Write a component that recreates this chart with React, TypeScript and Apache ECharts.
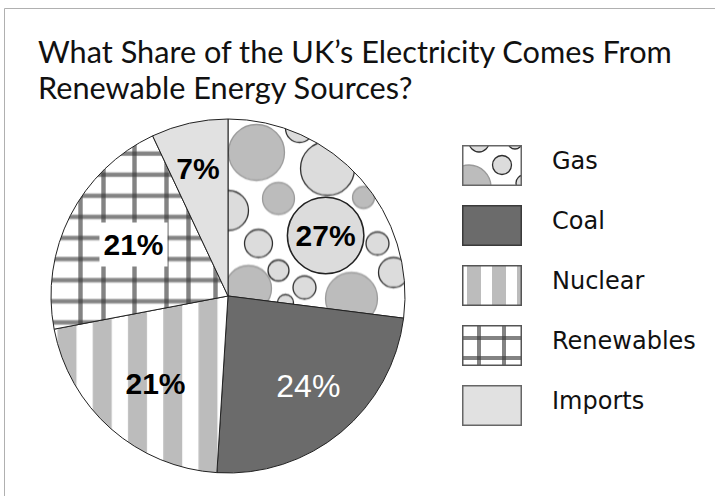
import React, { useEffect, useRef } from 'react';
import * as echarts from 'echarts';

const titleLines = ['What Share of the UK’s Electricity Comes From', 'Renewable Energy Sources?'];
const categories = ['Gas', 'Coal', 'Nuclear', 'Renewables', 'Imports'];
const shares = [27, 24, 21, 21, 7];
const labelTexts = ['27%', '24%', '21%', '21%', '7%'];

const W = 715;
const H = 496;
const CX = 228;
const CY = 296;
const R = 177;

// decorative circle layout of the gas texture (page coordinates): [cx, cy, r, kind]
const gasBubbles: [number, number, number, string][] = [
  [256, 152, 28, 'g'],
  [327, 168, 27, 'l'],
  [299, 128, 14, 'l'],
  [278, 198, 16, 'g'],
  [363, 197, 11, 'g'],
  [228, 210, 20, 'l'],
  [258, 243, 14, 'l'],
  [377, 243, 11.5, 'l'],
  [278, 270, 10.5, 'l'],
  [248, 288, 23, 'g'],
  [304, 287, 11.5, 'l'],
  [393, 272, 15, 'l'],
  [351, 298, 26, 'g'],
  [285, 302, 8, 'l'],
];

// the SVG renderer anchors an image pattern at the shape's bounding box corner
function sectorOrigins() {
  const total = shares.reduce((a, b) => a + b, 0);
  let acc = 0;
  const at = (t: number) => [CX + R * Math.sin((t * Math.PI) / 180), CY - R * Math.cos((t * Math.PI) / 180)];
  return shares.map((v) => {
    const a0 = (acc / total) * 360;
    const a1 = ((acc + v) / total) * 360;
    acc += v;
    const pts = [[CX, CY], at(a0), at(a1)];
    [0, 90, 180, 270, 360].forEach((t) => {
      if (t > a0 && t < a1) pts.push(at(t));
    });
    return [Math.min(...pts.map((p) => p[0])) - 0.5, Math.min(...pts.map((p) => p[1])) - 0.5];
  });
}

function canvasURL(w: number, h: number, draw: (c: CanvasRenderingContext2D) => void) {
  const cv = document.createElement('canvas');
  cv.width = w;
  cv.height = h;
  const ctx = cv.getContext('2d') as CanvasRenderingContext2D;
  draw(ctx);
  return cv.toDataURL();
}

function bubble(ctx: CanvasRenderingContext2D, x: number, y: number, r: number, kind: string) {
  ctx.beginPath();
  ctx.arc(x, y, r, 0, Math.PI * 2);
  ctx.fillStyle = kind === 'g' ? '#bcbcbc' : '#dcdcdc';
  ctx.fill();
  ctx.lineWidth = 1.3;
  ctx.strokeStyle = kind === 'g' ? '#9a9a9a' : '#2e2e2e';
  ctx.stroke();
}

function gasTexture(o: number[]) {
  return canvasURL(W, H, (ctx) => {
    ctx.fillStyle = '#fff';
    ctx.fillRect(0, 0, W, H);
    ctx.translate(-o[0], -o[1]);
    gasBubbles.forEach(([x, y, r, k]) => bubble(ctx, x, y, r, k));
  });
}

function stripeTexture(o: number[]) {
  return canvasURL(W, H, (ctx) => {
    ctx.fillStyle = '#fff';
    ctx.fillRect(0, 0, W, H);
    ctx.translate(-o[0], -o[1]);
    ctx.fillStyle = '#bcbcbc';
    for (let x = 57 - 35.25; x < 300; x += 35.25) ctx.fillRect(x, 0, 19, H + 200);
  });
}

function gridTexture(o: number[]) {
  return canvasURL(W, H, (ctx) => {
    ctx.fillStyle = '#fff';
    ctx.fillRect(0, 0, W, H);
    ctx.translate(-o[0], -o[1]);
    ctx.fillStyle = 'rgba(55,55,55,0.62)';
    [80, 103, 134, 166, 188, 215].forEach((x) => ctx.fillRect(x - 2.2, 0, 4.4, H + 200));
    for (let y = 132; y < 340; y += 21.1) ctx.fillRect(0, y - 2.2, W, 4.4);
  });
}

function framed(ctx: CanvasRenderingContext2D, w: number, h: number, border: string) {
  ctx.strokeStyle = border;
  ctx.lineWidth = 1.5;
  ctx.strokeRect(0.75, 0.75, w - 1.5, h - 1.5);
}

function legendIcons() {
  const w = 60;
  const h = 41;
  const gas = canvasURL(w, h, (ctx) => {
    ctx.fillStyle = '#fff';
    ctx.fillRect(0, 0, w, h);
    bubble(ctx, 7, 42, 22, 'g');
    bubble(ctx, 40, 20, 9.5, 'l');
    bubble(ctx, 62, 38, 8, 'l');
    bubble(ctx, 17, -3, 10, 'l');
    bubble(ctx, 53, -3, 7, 'l');
    framed(ctx, w, h, '#666');
  });
  const coal = canvasURL(w, h, (ctx) => {
    ctx.fillStyle = '#6b6b6b';
    ctx.fillRect(0, 0, w, h);
    framed(ctx, w, h, '#3a3a3a');
  });
  const nuclear = canvasURL(w, h, (ctx) => {
    ctx.fillStyle = '#fff';
    ctx.fillRect(0, 0, w, h);
    ctx.fillStyle = '#bcbcbc';
    [5, 30, 55].forEach((x) => ctx.fillRect(x, 0, 14, h));
    framed(ctx, w, h, '#555');
  });
  const renew = canvasURL(w, h, (ctx) => {
    ctx.fillStyle = '#fff';
    ctx.fillRect(0, 0, w, h);
    ctx.fillStyle = 'rgba(55,55,55,0.62)';
    [17, 42].forEach((x) => ctx.fillRect(x - 2, 0, 4, h));
    [13, 33].forEach((y) => ctx.fillRect(0, y - 2, w, 4));
    framed(ctx, w, h, '#555');
  });
  const imports = canvasURL(w, h, (ctx) => {
    ctx.fillStyle = '#e1e1e1';
    ctx.fillRect(0, 0, w, h);
    framed(ctx, w, h, '#666');
  });
  return [gas, coal, nuclear, renew, imports];
}

// label nudges relative to the default inside position
const labelNudges = [
  [29, 0],
  [22, 19],
  [-12, 19],
  [-13, -10],
  [-10, -38],
];

export default function App() {
  const ref = useRef<HTMLDivElement>(null);
  useEffect(() => {
    if (!ref.current) return;
    const chart = echarts.init(ref.current, undefined, { renderer: 'svg' });
    const origins = sectorOrigins();
    const pat = (img: string) => ({ image: img, repeat: 'no-repeat', imageWidth: W, imageHeight: H });
    const fills: any[] = [
      pat(gasTexture(origins[0])),
      '#6b6b6b',
      pat(stripeTexture(origins[2])),
      pat(gridTexture(origins[3])),
      '#e1e1e1',
    ];
    const icons = legendIcons();
    const baseLabel = {
      fontFamily: 'Liberation Sans, Arial, sans-serif',
      fontSize: 30,
      fontWeight: 'bold',
      color: '#000',
    };
    const labelStyles: any[] = [
      {
        ...baseLabel,
        backgroundColor: '#dcdcdc',
        borderColor: '#222',
        borderWidth: 1.5,
        borderRadius: 38,
        width: 75,
        height: 75,
        lineHeight: 75,
        align: 'center',
        verticalAlign: 'middle',
      },
      { ...baseLabel, color: '#fff', fontWeight: 'normal', fontSize: 32 },
      { ...baseLabel },
      { ...baseLabel, backgroundColor: '#fff', padding: [8, 4, 6, 4] },
      { ...baseLabel },
    ];
    chart.setOption({
      animation: false,
      title: {
        text: titleLines.join('\n'),
        left: 38,
        top: 33,
        padding: 0,
        textStyle: {
          fontFamily: 'Lato, sans-serif',
          fontWeight: 'normal',
          fontSize: 30.7,
          lineHeight: 36,
          color: '#111',
        },
      },
      legend: {
        orient: 'vertical',
        left: 462,
        top: 145,
        padding: 0,
        itemWidth: 60,
        itemHeight: 41,
        itemGap: 19,
        selectedMode: false,
        data: categories.map((c, i) => ({ name: c, icon: 'image://' + icons[i] })),
        formatter: '{t|{name}}\n{s|}',
        textStyle: {
          fontFamily: 'DejaVu Sans, sans-serif',
          fontSize: 24,
          color: '#111',
          padding: [0, 0, 0, 25],
          rich: {
            t: { fontFamily: 'DejaVu Sans, sans-serif', fontSize: 24, color: '#111', lineHeight: 28 },
            s: { fontSize: 8, lineHeight: 10 },
          },
        },
      },
      graphic: [
        {
          type: 'rect',
          shape: { x: 4.5, y: 8.5, width: 760, height: 560 },
          style: { fill: 'none', stroke: '#b0b0b0', lineWidth: 1 },
          silent: true,
        },
      ],
      series: [
        {
          type: 'pie',
          center: [CX, CY],
          radius: [0, R],
          startAngle: 90,
          clockwise: true,
          silent: true,
          emphasis: { disabled: true },
          itemStyle: { borderColor: '#222', borderWidth: 1 },
          label: { show: true, position: 'inside', formatter: (p: any) => labelTexts[p.dataIndex] },
          labelLine: { show: false },
          labelLayout: (p: any) => ({ dx: labelNudges[p.dataIndex][0], dy: labelNudges[p.dataIndex][1] }),
          data: categories.map((c, i) => ({
            name: c,
            value: shares[i],
            itemStyle: { color: fills[i] },
            label: labelStyles[i],
          })),
        },
      ],
    });
    return () => chart.dispose();
  }, []);
  return <div ref={ref} style={{ position: 'absolute', left: 0, top: 0, width: W, height: H }} />;
}
